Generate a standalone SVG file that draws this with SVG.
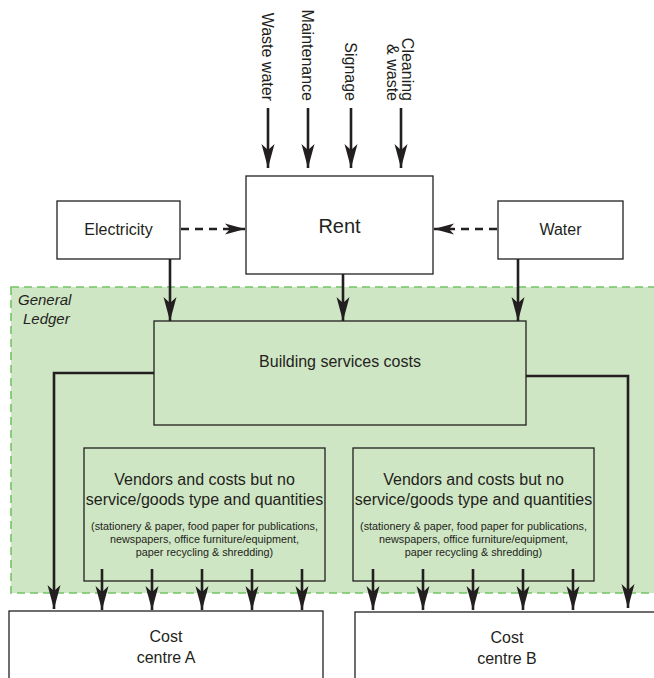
<svg xmlns="http://www.w3.org/2000/svg" width="654" height="678" viewBox="0 0 654 678">
  <style>
    text { font-family: "Liberation Sans", Arial, sans-serif; fill: #231f20; }
    .box { fill: #ffffff; stroke: #231f20; stroke-width: 1.3; }
    .gbox { fill: #cfe6c4; stroke: #231f20; stroke-width: 1.3; }
    .conn { fill: none; stroke: #231f20; stroke-width: 2.6; }
    .dash { fill: none; stroke: #231f20; stroke-width: 2.6; stroke-dasharray: 8 6; }
    .lbl { font-size: 16px; text-anchor: middle; }
    .big { font-size: 20px; text-anchor: middle; }
    .vert { font-size: 16px; text-anchor: end; }
    .small { font-size: 10.8px; text-anchor: middle; }
    .gl { font-size: 15px; font-style: italic; }
  </style>
  <defs>
    <marker id="arrow" markerUnits="userSpaceOnUse" markerWidth="26" markerHeight="14" refX="24" refY="7" orient="auto" viewBox="0 0 26 14">
      <path d="M0,0.5 L24,7 L0,13.5 L6,7 Z" fill="#231f20"/>
    </marker>
    <marker id="arrowS" markerUnits="userSpaceOnUse" markerWidth="22" markerHeight="12" refX="20" refY="6" orient="auto" viewBox="0 0 22 12">
      <path d="M0,0.5 L20,6 L0,11.5 L5,6 Z" fill="#231f20"/>
    </marker>
  </defs>

  <!-- General Ledger area -->
  <g id="general-ledger">
    <rect x="11" y="287" width="660" height="306" fill="#cfe6c4" stroke="#74c465" stroke-width="1.6" stroke-dasharray="8 5"/>
    <text class="gl" x="18" y="305">General</text>
    <text class="gl" x="23" y="324">Ledger</text>
  </g>

  <!-- Incoming items above Rent -->
  <g id="waste-water">
    <text class="vert" transform="translate(262,101) rotate(90)">Waste water</text>
  </g>
  <g id="maintenance">
    <text class="vert" transform="translate(302,101) rotate(90)">Maintenance</text>
  </g>
  <g id="signage">
    <text class="vert" transform="translate(345,101) rotate(90)">Signage</text>
  </g>
  <g id="cleaning-waste">
    <text class="vert" transform="translate(402,101) rotate(90)">Cleaning</text>
    <text class="vert" transform="translate(387,101) rotate(90)">&amp; waste</text>
  </g>

  <g id="electricity">
    <rect class="box" x="57" y="201" width="123" height="58"/>
    <text class="lbl" x="118.5" y="235">Electricity</text>
  </g>
  <g id="rent">
    <rect class="box" x="246" y="176" width="187" height="98"/>
    <text class="big" x="339.5" y="233">Rent</text>
  </g>
  <g id="water">
    <rect class="box" x="498" y="201" width="125" height="58"/>
    <text class="lbl" x="560.5" y="235">Water</text>
  </g>

  <g id="building-services">
    <rect class="gbox" x="154" y="321" width="372" height="104"/>
    <text class="lbl" x="340" y="367">Building services costs</text>
  </g>

  <g id="vendors-a">
    <rect class="gbox" x="84" y="448" width="241" height="133"/>
    <text class="lbl" x="204.5" y="485">Vendors and costs but no</text>
    <text class="lbl" x="204.5" y="505">service/goods type and quantities</text>
    <text class="small" x="204.5" y="530">(stationery &amp; paper, food paper for publications,</text>
    <text class="small" x="204.5" y="543">newspapers, office furniture/equipment,</text>
    <text class="small" x="204.5" y="556">paper recycling &amp; shredding)</text>
  </g>
  <g id="vendors-b">
    <rect class="gbox" x="353" y="448" width="241" height="133"/>
    <text class="lbl" x="473.5" y="485">Vendors and costs but no</text>
    <text class="lbl" x="473.5" y="505">service/goods type and quantities</text>
    <text class="small" x="473.5" y="530">(stationery &amp; paper, food paper for publications,</text>
    <text class="small" x="473.5" y="543">newspapers, office furniture/equipment,</text>
    <text class="small" x="473.5" y="556">paper recycling &amp; shredding)</text>
  </g>

  <g id="cost-centre-a">
    <rect class="box" x="9" y="611" width="314" height="80" stroke="#444"/>
    <text class="lbl" x="166" y="642">Cost</text>
    <text class="lbl" x="166" y="663">centre A</text>
  </g>
  <g id="cost-centre-b">
    <rect class="box" x="355" y="612" width="314" height="80" stroke="#444"/>
    <text class="lbl" x="507" y="643">Cost</text>
    <text class="lbl" x="507" y="664">centre B</text>
  </g>

  <!-- Connectors -->
  <g id="connectors">
    <line class="conn" x1="268" y1="108" x2="268" y2="168" marker-end="url(#arrow)"/>
    <line class="conn" x1="308" y1="108" x2="308" y2="168" marker-end="url(#arrow)"/>
    <line class="conn" x1="351" y1="108" x2="351" y2="168" marker-end="url(#arrow)"/>
    <line class="conn" x1="401" y1="108" x2="401" y2="168" marker-end="url(#arrow)"/>

    <line class="dash" x1="181" y1="229" x2="245" y2="229" marker-end="url(#arrowS)"/>
    <line class="dash" x1="497" y1="229" x2="434" y2="229" marker-end="url(#arrowS)"/>

    <line class="conn" x1="170" y1="259" x2="170" y2="321" marker-end="url(#arrow)"/>
    <line class="conn" x1="343" y1="274" x2="343" y2="321" marker-end="url(#arrow)"/>
    <line class="conn" x1="518" y1="259" x2="518" y2="321" marker-end="url(#arrow)"/>

    <path class="conn" d="M154,373 H54 V609" marker-end="url(#arrow)"/>
    <path class="conn" d="M526,376 H628 V608" marker-end="url(#arrow)"/>

    <line class="conn" x1="102" y1="569" x2="102" y2="610" marker-end="url(#arrow)"/>
    <line class="conn" x1="152" y1="569" x2="152" y2="610" marker-end="url(#arrow)"/>
    <line class="conn" x1="202" y1="569" x2="202" y2="610" marker-end="url(#arrow)"/>
    <line class="conn" x1="252" y1="569" x2="252" y2="610" marker-end="url(#arrow)"/>
    <line class="conn" x1="302" y1="569" x2="302" y2="610" marker-end="url(#arrow)"/>

    <line class="conn" x1="373" y1="569" x2="373" y2="610" marker-end="url(#arrow)"/>
    <line class="conn" x1="423" y1="569" x2="423" y2="610" marker-end="url(#arrow)"/>
    <line class="conn" x1="473" y1="569" x2="473" y2="610" marker-end="url(#arrow)"/>
    <line class="conn" x1="523" y1="569" x2="523" y2="610" marker-end="url(#arrow)"/>
    <line class="conn" x1="573" y1="569" x2="573" y2="610" marker-end="url(#arrow)"/>
  </g>
</svg>
